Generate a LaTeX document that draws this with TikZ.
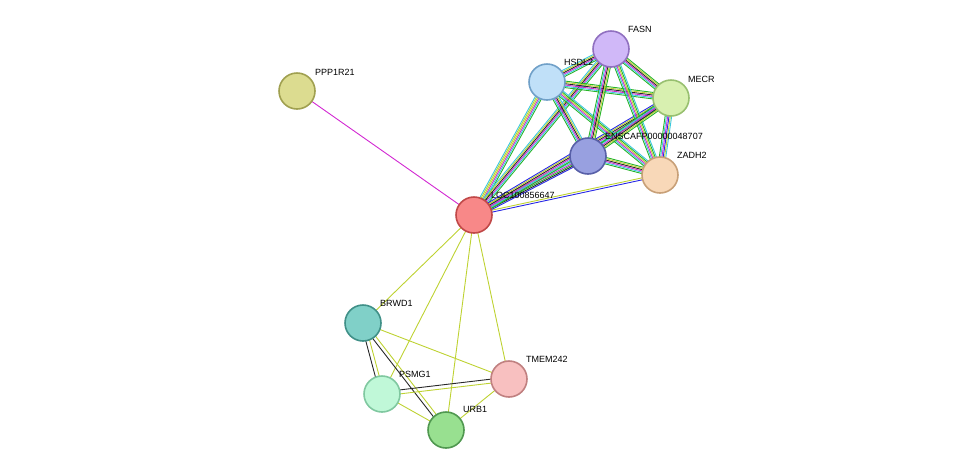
\documentclass[tikz,border=0pt]{standalone}
\usepackage{fontspec}
\setmainfont{Liberation Sans}
\usetikzlibrary{calc}

\definecolor{txtm}{RGB}{190,210,50}
\definecolor{nbh}{RGB}{40,180,40}
\definecolor{fus}{RGB}{40,40,230}
\definecolor{expt}{RGB}{210,40,210}
\definecolor{dbs}{RGB}{60,200,220}
\definecolor{coex}{RGB}{40,40,40}

\definecolor{pppF}{RGB}{220,220,144}\definecolor{pppD}{RGB}{160,160,80}
\definecolor{hsdlF}{RGB}{192,224,248}\definecolor{hsdlD}{RGB}{112,160,200}
\definecolor{fasnF}{RGB}{208,184,248}\definecolor{fasnD}{RGB}{144,112,192}
\definecolor{mecrF}{RGB}{216,240,176}\definecolor{mecrD}{RGB}{152,192,112}
\definecolor{enscF}{RGB}{152,160,224}\definecolor{enscD}{RGB}{88,96,168}
\definecolor{zadhF}{RGB}{248,216,184}\definecolor{zadhD}{RGB}{200,160,120}
\definecolor{locF}{RGB}{248,136,136}\definecolor{locD}{RGB}{192,72,72}
\definecolor{brwdF}{RGB}{128,208,200}\definecolor{brwdD}{RGB}{64,144,136}
\definecolor{tmemF}{RGB}{248,192,192}\definecolor{tmemD}{RGB}{192,128,128}
\definecolor{psmgF}{RGB}{192,248,216}\definecolor{psmgD}{RGB}{128,200,160}
\definecolor{urbF}{RGB}{152,224,144}\definecolor{urbD}{RGB}{80,152,80}

\tikzset{
	prot/.style={circle, draw=#1D, fill=#1F, line width=1.6pt, minimum size=36pt, inner sep=0pt},
	lbl/.style={anchor=south west, inner sep=1pt, font=\fontsize{9}{9}\selectfont},
	edge/.style={line width=0.9pt}
}

% bundle of parallel lines between two nodes
\newcommand\bundle[3]{%
	\foreach \c [count=\i] in {#3}{
		\draw[edge, \c] let \p1=($(#2)-(#1)$), \n1={veclen(\x1,\y1)}, \n2={(\i-3.5)*1.3pt} in
			($(#1)+(-\y1/\n1*\n2,\x1/\n1*\n2)$) -- ($(#2)+(-\y1/\n1*\n2,\x1/\n1*\n2)$);
	}}

\begin{document}
\begin{tikzpicture}[x=1pt, y=-1pt]

	\useasboundingbox (0,0) rectangle (976,475);

	% coordinates of proteins
	\coordinate (ppp) at (297,91);
	\coordinate (fasn) at (611,49);
	\coordinate (hsdl) at (547,82);
	\coordinate (mecr) at (671,98);
	\coordinate (ensc) at (588,156);
	\coordinate (zadh) at (660,175);
	\coordinate (loc) at (474,215);
	\coordinate (brwd) at (363,323);
	\coordinate (tmem) at (509,379);
	\coordinate (psmg) at (382,394);
	\coordinate (urb) at (446,430);

	% edges
	\draw[edge, expt] (loc) -- (ppp);
	\foreach \a in {brwd, psmg, urb, tmem}
		\draw[edge, txtm] (loc) -- (\a);
	\draw[edge, txtm] (brwd) -- (tmem);
	\draw[edge, txtm] (psmg) -- (urb);
	\draw[edge, txtm] (urb) -- (tmem);
	\draw[edge, coex] ($(brwd)+(-2,0)$) -- ($(psmg)+(-2,0)$);
	\draw[edge, txtm] ($(brwd)+(2,0)$) -- ($(psmg)+(2,0)$);
	\draw[edge, coex] ($(brwd)+(-1.5,1)$) -- ($(urb)+(-1.5,1)$);
	\draw[edge, txtm] ($(brwd)+(1.5,-1)$) -- ($(urb)+(1.5,-1)$);
	\draw[edge, coex] ($(psmg)+(0,-2)$) -- ($(tmem)+(0,-2)$);
	\draw[edge, txtm] ($(psmg)+(0,2)$) -- ($(tmem)+(0,2)$);
	\draw[edge, fus] ($(loc)+(0,1)$) -- ($(zadh)+(0,1)$);
	\draw[edge, txtm] ($(loc)+(0,-1)$) -- ($(zadh)+(0,-1)$);

	\bundle{loc}{ensc}{fus,coex,nbh,expt,dbs,txtm}
	\bundle{loc}{hsdl}{nbh,dbs,expt,txtm,txtm,dbs}
	\bundle{loc}{fasn}{nbh,dbs,expt,coex,txtm,dbs}
	\bundle{loc}{mecr}{nbh,dbs,expt,coex,txtm,fus}
	\bundle{hsdl}{fasn}{nbh,dbs,expt,coex,txtm,dbs}
	\bundle{hsdl}{mecr}{nbh,dbs,expt,coex,txtm,nbh}
	\bundle{hsdl}{ensc}{nbh,dbs,expt,coex,txtm,dbs}
	\bundle{hsdl}{zadh}{nbh,dbs,expt,txtm,nbh,dbs}
	\bundle{fasn}{mecr}{nbh,dbs,expt,coex,txtm,nbh}
	\bundle{fasn}{ensc}{nbh,dbs,expt,coex,txtm,nbh}
	\bundle{fasn}{zadh}{nbh,dbs,expt,txtm,nbh,dbs}
	\bundle{mecr}{ensc}{nbh,dbs,expt,coex,txtm,nbh}
	\bundle{mecr}{zadh}{nbh,dbs,expt,fus,txtm,dbs}
	\bundle{ensc}{zadh}{nbh,dbs,expt,coex,txtm,nbh}

	% labels
	\node[lbl] (lppp) at (314,77) {PPP1R21};
	\node[lbl] (lhsdl) at (563,67) {HSDL2};
	\node[lbl] (lfasn) at (627,34) {FASN};
	\node[lbl] (lmecr) at (687,84) {MECR};
	\node[lbl] (lensc) at (604,141) {ENSCAFP00000048707};
	\node[lbl] (lzadh) at (676,160) {ZADH2};
	\node[lbl] (lloc) at (490,200) {LOC100856647};
	\node[lbl] (lbrwd) at (379,308) {BRWD1};
	\node[lbl] (ltmem) at (525,364) {TMEM242};
	\node[lbl] (lpsmg) at (398,379) {PSMG1};
	\node[lbl] (lurb) at (462,414) {URB1};

	% proteins
	\node[prot=ppp] (nppp) at (ppp) {};
	\node[prot=hsdl] (nhsdl) at (hsdl) {};
	\node[prot=fasn] (nfasn) at (fasn) {};
	\node[prot=mecr] (nmecr) at (mecr) {};
	\node[prot=ensc] (nensc) at (ensc) {};
	\node[prot=zadh] (nzadh) at (zadh) {};
	\node[prot=loc] (nloc) at (loc) {};
	\node[prot=brwd] (nbrwd) at (brwd) {};
	\node[prot=tmem] (ntmem) at (tmem) {};
	\node[prot=psmg] (npsmg) at (psmg) {};
	\node[prot=urb] (nurb) at (urb) {};

\end{tikzpicture}
\end{document}
